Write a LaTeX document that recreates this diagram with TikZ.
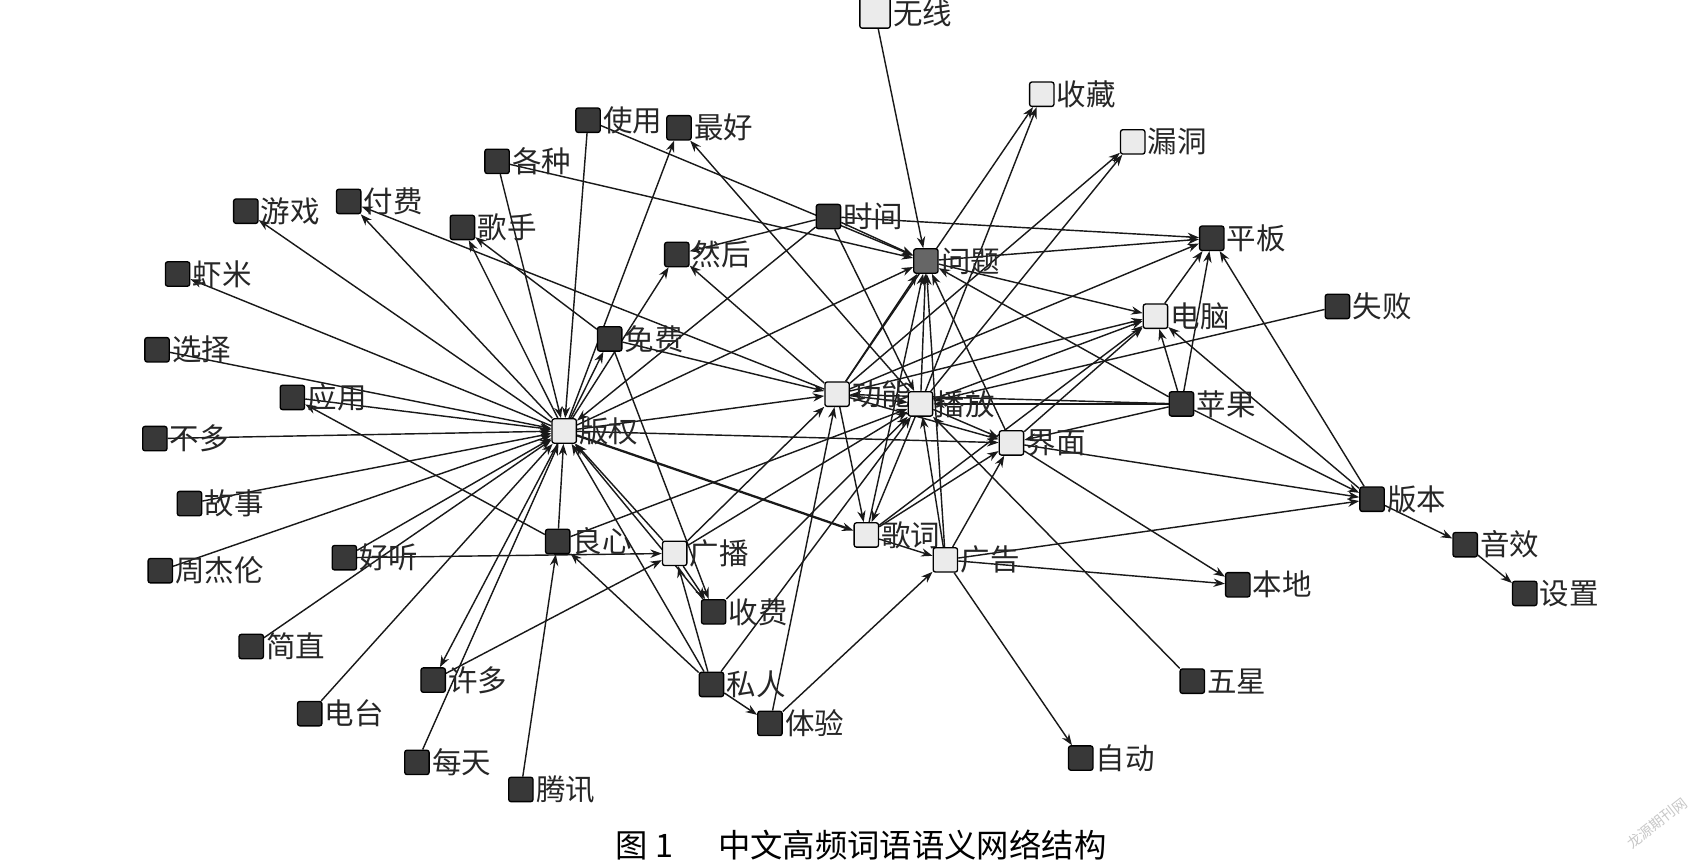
\documentclass[tikz,border=0pt]{standalone}
\usepackage{fontspec}
\newfontfamily\cjk{Noto Sans CJK SC}
\usetikzlibrary{arrows.meta,backgrounds}
\tikzset{
    %Define standard arrow tip
    >={Stealth[length=6pt,width=4.4pt]},
    %Define style for word boxes
    ord/.style={
           rectangle,
           fill=black!78,
           draw=black,
           rounded corners=1.2pt,
           line width=0.7pt,
           minimum size=0.45cm,
           inner sep=0pt,
           label distance=1pt},
    kjerne/.style={ord, fill=black!8},
    tekst/.style={font=\cjk\fontsize{15.5}{17}\selectfont, text=black!85, inner sep=1pt},
    % Define arrow style
    lenke/.style={->, line width=0.75pt, black!90}
}
\begin{document}
\begin{tikzpicture}[x=0.02cm, y=-0.02cm]
 \useasboundingbox (0,0) rectangle (1568,799);
 %nodes, top row
 \node[kjerne, minimum size=0.56cm, label={[tekst]right:无线}] (wuxian) at (808,12) {};
 \node[kjerne, label={[tekst]right:收藏}] (shoucang) at (962,87) {};
 \node[kjerne, label={[tekst]right:漏洞}] (loudong) at (1046,131) {};
 \node[ord, label={[tekst]right:使用}] (shiyong) at (543,111) {};
 \node[ord, label={[tekst]right:最好}] (zuihao) at (627,118) {};
 \node[ord, label={[tekst]right:各种}] (gezhong) at (459,149) {};
 \node[ord, label={[tekst]right:付费}] (fufei) at (322,186) {};
 \node[ord, label={[tekst]right:游戏}] (youxi) at (227,195) {};
 \node[ord, label={[tekst]right:歌手}] (geshou) at (427,210) {};
 \node[ord, label={[tekst]right:时间}] (shijian) at (765,200) {};
 \node[ord, label={[tekst]right:然后}] (ranhou) at (625,235) {};
 \node[ord, fill=black!60, label={[tekst]right:问题}] (wenti) at (855,241) {};
 \node[ord, label={[tekst]right:平板}] (pingban) at (1119,220) {};
 \node[ord, label={[tekst]right:虾米}] (xiami) at (164,253) {};
 %nodes, middle
 \node[kjerne, label={[tekst]right:电脑}] (diannao) at (1067,292) {};
 \node[ord, label={[tekst]right:失败}] (shibai) at (1235,283) {};
 \node[ord, label={[tekst]right:免费}] (mianfei) at (563,313) {};
 \node[ord, label={[tekst]right:选择}] (xuanze) at (145,323) {};
 \node[ord, label={[tekst]right:应用}] (yingyong) at (270,367) {};
 \node[kjerne, label={[tekst]right:功能}] (gongneng) at (773,364) {};
 \node[kjerne, label={[tekst]right:播放}] (bofang) at (850,373) {};
 \node[ord, label={[tekst]right:苹果}] (pingguo) at (1091,373) {};
 \node[kjerne, label={[tekst]right:版权}] (banquan) at (521,398) {};
 \node[ord, label={[tekst]right:不多}] (buduo) at (143,405) {};
 \node[kjerne, label={[tekst]right:界面}] (jiemian) at (934,409) {};
 \node[ord, label={[tekst]right:故事}] (gushi) at (175,465) {};
 \node[ord, label={[tekst]right:版本}] (banben) at (1267,461) {};
 \node[kjerne, label={[tekst]right:歌词}] (geci) at (800,494) {};
 \node[ord, label={[tekst]right:良心}] (liangxin) at (515,500) {};
 \node[kjerne, label={[tekst]right:广播}] (guangbo) at (623,511) {};
 \node[kjerne, label={[tekst]right:广告}] (guanggao) at (873,517) {};
 \node[ord, label={[tekst]right:音效}] (yinxiao) at (1353,503) {};
 \node[ord, label={[tekst]right:周杰伦}] (zhoujielun) at (148,527) {};
 \node[ord, label={[tekst]right:好听}] (haoting) at (318,515) {};
 %nodes, bottom
 \node[ord, label={[tekst]right:本地}] (bendi) at (1143,540) {};
 \node[ord, label={[tekst]right:收费}] (shoufei) at (659,565) {};
 \node[ord, label={[tekst]right:设置}] (shezhi) at (1408,548) {};
 \node[ord, label={[tekst]right:简直}] (jianzhi) at (232,597) {};
 \node[ord, label={[tekst]right:许多}] (xuduo) at (400,628) {};
 \node[ord, label={[tekst]right:五星}] (wuxing) at (1101,629) {};
 \node[ord, label={[tekst]right:私人}] (siren) at (657,632) {};
 \node[ord, label={[tekst]right:电台}] (diantai) at (286,659) {};
 \node[ord, label={[tekst]right:体验}] (tiyan) at (711,668) {};
 \node[ord, label={[tekst]right:自动}] (zidong) at (998,700) {};
 \node[ord, label={[tekst]right:每天}] (meitian) at (385,704) {};
 \node[ord, label={[tekst]right:腾讯}] (tengxun) at (481,729) {};
 % caption and the faint stamp in the corner
 \node[font=\cjk\fontsize{17}{20}\selectfont] (tittel) at (795,780) {图 1\hspace{1.4em}中文高频词语语义网络结构};
 \node[font=\cjk\fontsize{7.5}{8}\selectfont, text=black!22, rotate=38] (stempel) at (1530,760) {龙源期刊网};
 % edges go behind the boxes
 \begin{scope}[on background layer]
 % the hub 版权
 \path[lenke] (banquan)
   edge (youxi) edge (fufei) edge (xiami) edge (geshou)
   edge (zuihao) edge (mianfei) edge (ranhou) edge (gongneng)
   edge (jiemian) edge (wenti) edge (xuduo)
   edge[line width=1.2pt] (geci)
   edge[<-] (gezhong) edge[<-] (shiyong) edge[<-] (xuanze) edge[<-] (yingyong)
   edge[<-] (buduo) edge[<-] (gushi) edge[<-] (zhoujielun) edge[<-] (haoting)
   edge[<-] (jianzhi) edge[<-] (diantai) edge[<-] (meitian) edge[<-] (liangxin)
   edge[<-] (siren) edge[<-] (guangbo) edge[<-] (shijian) edge[<-] (shoufei);
 % lower left
 \path[lenke] (liangxin) edge (yingyong) edge (bofang);
 \path[lenke] (tengxun) edge (liangxin);
 \path[lenke] (siren) edge (liangxin) edge (guangbo) edge (tiyan) edge (bofang);
 \path[lenke] (haoting) edge (guangbo);
 \path[lenke] (xuduo) edge (guangbo);
 \path[lenke] (mianfei) edge (shoufei) edge (geshou) edge (gongneng);
 \path[lenke] (guangbo) edge (shoufei) edge (gongneng) edge (bofang);
 \path[lenke] (shoufei) edge (bofang);
 \path[lenke] (tiyan) edge (gongneng) edge (guanggao);
 % the hubs 功能 and 播放
 \path[lenke] (gongneng) edge (fufei) edge (ranhou) edge (shoucang) edge (loudong)
   edge (pingban) edge (diannao) edge (geci) edge (wenti) edge (bofang) edge (jiemian);
 \path[lenke] (bofang) edge (zuihao) edge (shoucang) edge (loudong) edge (diannao)
   edge (geci) edge (wenti) edge (jiemian);
 % upper part
 \path[lenke] (shiyong) edge (wenti);
 \path[lenke] (gezhong) edge (wenti);
 \path[lenke] (shijian) edge (wenti) edge (pingban) edge (ranhou) edge (bofang);
 \path[lenke] (wuxian) edge (wenti);
 \path[lenke] (wenti) edge (pingban) edge (diannao);
 % right part
 \path[lenke] (pingguo) edge (wenti) edge (pingban) edge (diannao) edge (bofang)
   edge (gongneng) edge (jiemian) edge (banben);
 \path[lenke] (diannao) edge (pingban);
 \path[lenke] (jiemian) edge (diannao) edge (banben) edge (bendi) edge (wenti);
 \path[lenke] (geci) edge (diannao) edge (jiemian) edge (wenti) edge (guanggao);
 \path[lenke] (banben) edge (diannao) edge (pingban) edge (yinxiao);
 \path[lenke] (yinxiao) edge (shezhi);
 \path[lenke] (shibai) edge (bofang);
 \path[lenke] (guanggao) edge (banben) edge (bendi) edge (zidong) edge (jiemian)
   edge (wenti) edge (bofang);
 \path[lenke] (wuxing) edge (bofang);
 \end{scope}
\end{tikzpicture}
\end{document}
